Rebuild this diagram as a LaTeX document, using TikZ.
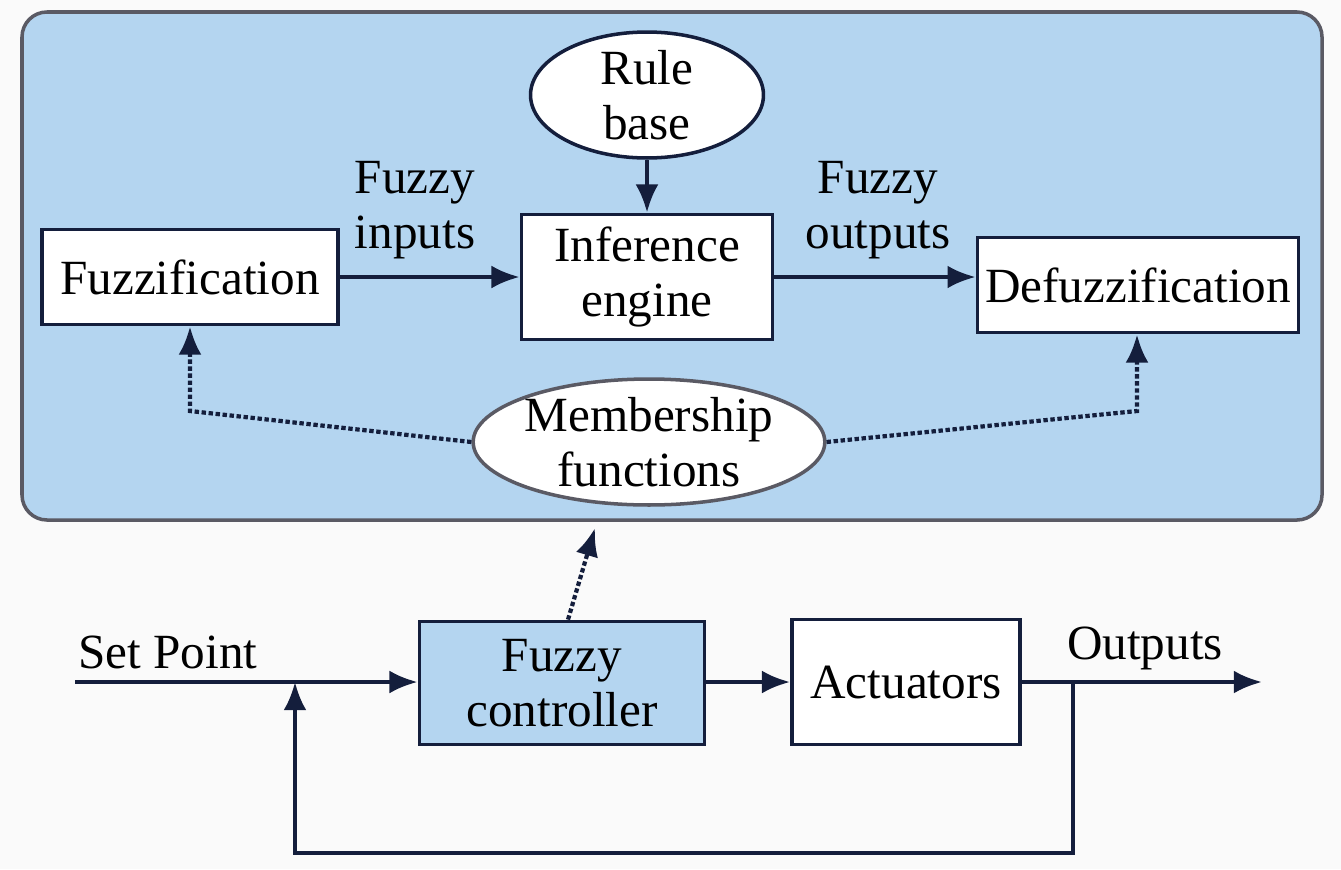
\documentclass[tikz,border=0pt]{standalone}
\usepackage{fontspec}
\setmainfont{Liberation Serif}
\usetikzlibrary{shapes.geometric,arrows.meta}
\definecolor{panelblue}{RGB}{180,213,240}
\definecolor{navy}{RGB}{20,30,60}
\definecolor{bordergray}{RGB}{90,90,100}
\begin{document}
\begin{tikzpicture}[x=0.02cm,y=-0.02cm,
  every node/.style={font=\fontsize{28}{31}\selectfont, text=black, align=center},
  blockbox/.style={draw=navy, line width=2.2pt, fill=white, inner sep=0pt},
  ellbox/.style={ellipse, draw=navy, line width=2pt, fill=white, inner sep=0pt},
  flow/.style={draw=navy, line width=2.2pt, -{Latex[length=16pt,width=13pt]}},
  dotflow/.style={draw=navy, line width=2.4pt, dash pattern=on 2.5pt off 1.5pt, -{Latex[length=16pt,width=13pt]}},
  lbl/.style={inner sep=0pt}
]
\useasboundingbox (0,0) rectangle (1341,869);
\fill[white!96!gray] (0,0) rectangle (1341,869);
% panel
\draw[fill=panelblue, draw=bordergray, line width=2pt, rounded corners=0.5cm] (22,12) rectangle (1322,520);

% upper nodes
\node[ellbox, minimum width=4.66cm, minimum height=2.2cm] (rule) at (647,95) {Rule\\base};
\node[blockbox, minimum width=5.02cm, minimum height=2.5cm] (inf) at (647,277) {Inference\\engine};
\node[blockbox, minimum width=5.92cm, minimum height=1.9cm] (fuzz) at (190,277) {Fuzzification};
\node[blockbox, minimum width=6.42cm, minimum height=1.9cm] (defuzz) at (1138,285) {Defuzzification};
\node[ellbox, minimum width=6.64cm, minimum height=2.3cm, draw=bordergray] (mem) at (649,442) {Membership\\functions};
\node[lbl] (fin) at (415,210) {Fuzzy\\inputs};
\node[lbl] (fout) at (878,210) {Fuzzy\\outputs};

\draw[flow] (rule.south) -- (inf.north);
\draw[flow] (fuzz.east |- inf.west) -- (inf.west);
\draw[flow] (inf.east) -- (defuzz.west |- inf.east);
\draw[dotflow] (mem.west) -- (190,411) -- (fuzz.south -| 190,0);
\draw[dotflow] (mem.east) -- (1137,411) -- (defuzz.south -| 1137,0);

% lower nodes
\node[blockbox, fill=panelblue, minimum width=5.7cm, minimum height=2.46cm] (ctrl) at (562,683) {Fuzzy\\controller};
\node[blockbox, minimum width=4.56cm, minimum height=2.5cm] (act) at (906,682) {Actuators};
\node[lbl] (sp) at (168,652) {Set Point};
\node[lbl] (outl) at (1145,648) {Outputs};

\coordinate (spstart) at (75,682);
\coordinate (outend) at (1262,682);
\coordinate (fbtop) at (1073,682);
\coordinate (fbin) at (295,682);
\coordinate (memtip) at (595,528);

\draw[flow] (spstart) -- (ctrl.west |- spstart);
\draw[flow] (ctrl.east |- act.west) -- (act.west);
\draw[flow] (act.east) -- (outend);
\draw[flow] (fbtop) -- (1073,853) -- (295,853) -- (fbin);
\draw[dotflow] (ctrl.north -| 568,0) -- (memtip);
\end{tikzpicture}
\end{document}
